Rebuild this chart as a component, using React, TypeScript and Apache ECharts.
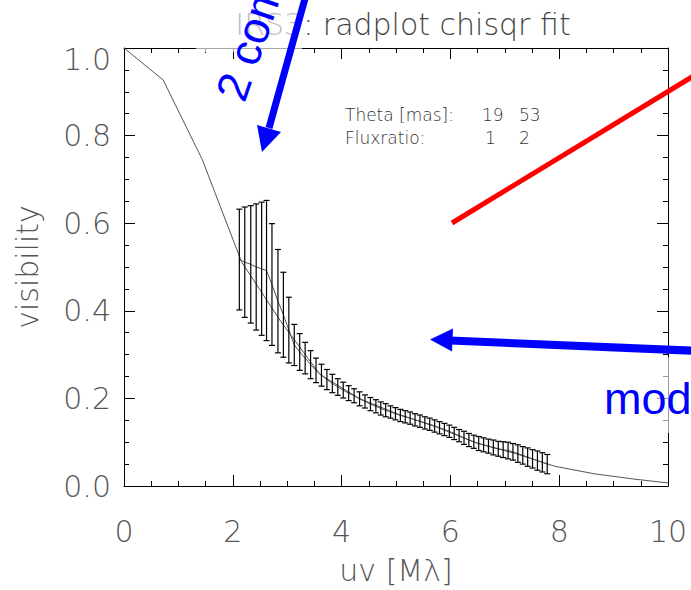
import React, { useEffect, useRef } from "react";
import * as echarts from "echarts";

// model curve
const modelUV = [0, 0.72, 1.44, 2.16, 2.88, 3.6, 4.32, 5.04, 5.76, 6.48, 7.2, 7.92, 8.64, 9.36, 10];
const modelVis = [1.0, 0.927, 0.745, 0.512, 0.376, 0.255, 0.2, 0.164, 0.134, 0.098, 0.074, 0.045, 0.028, 0.016, 0.007];

// measured visibilities with errors
const uvData = [
  2.12, 2.22, 2.33, 2.43, 2.53, 2.62, 2.72, 2.83, 2.93, 3.03,
  3.13, 3.23, 3.33, 3.43, 3.53, 3.63, 3.73, 3.83, 3.93, 4.03,
  4.13, 4.23, 4.33, 4.43, 4.53, 4.63,
  4.72, 4.81, 4.9, 4.99, 5.08, 5.17, 5.26, 5.35, 5.44, 5.53,
  5.62, 5.71, 5.8, 5.89, 5.98, 6.07, 6.16, 6.25, 6.34, 6.43,
  6.52, 6.61, 6.7, 6.79, 6.88, 6.97, 7.06, 7.15, 7.24, 7.33,
  7.42, 7.51, 7.6, 7.69, 7.78,
];
const visData = [
  0.517, 0.511, 0.506, 0.5, 0.496, 0.492, 0.46, 0.422, 0.391, 0.356,
  0.322, 0.306, 0.292, 0.277, 0.264, 0.253, 0.243, 0.234, 0.226, 0.219,
  0.212, 0.206, 0.199, 0.193, 0.187, 0.182,
  0.177, 0.173, 0.169, 0.165, 0.161, 0.158, 0.155, 0.151, 0.148, 0.144,
  0.141, 0.137, 0.133, 0.129, 0.125, 0.12, 0.115, 0.11, 0.105, 0.101,
  0.097, 0.094, 0.091, 0.088, 0.085, 0.083, 0.081, 0.078, 0.074, 0.07,
  0.066, 0.062, 0.058, 0.054, 0.05,
];
const errData = [
  0.115, 0.126, 0.134, 0.144, 0.152, 0.16, 0.139, 0.118, 0.097, 0.075,
  0.047, 0.042, 0.036, 0.032, 0.028, 0.025, 0.023, 0.021, 0.019, 0.018,
  0.017, 0.016, 0.016, 0.015, 0.015, 0.015,
  0.015, 0.015, 0.014, 0.014, 0.014, 0.014, 0.014, 0.014, 0.014, 0.014,
  0.014, 0.014, 0.014, 0.014, 0.014, 0.014, 0.014, 0.015, 0.015, 0.015,
  0.016, 0.016, 0.016, 0.017, 0.017, 0.018, 0.019, 0.019, 0.02, 0.02,
  0.021, 0.021, 0.022, 0.022, 0.022,
];

const xTicks = ["0", "2", "4", "6", "8", "10"];
const yTicks = ["0.0", "0.2", "0.4", "0.6", "0.8", "1.0"];

const FONT = '"DejaVu Sans"';
const LABEL_COLOR = "#555";
const BLUE = "#0000ff";

export default function App() {
  const ref = useRef<HTMLDivElement>(null);
  useEffect(() => {
    if (!ref.current) return;
    const chart = echarts.init(ref.current, undefined, { renderer: "svg" });

    const tickCommon = {
      axisLine: { show: true, onZero: false, lineStyle: { color: "#000", width: 1 } },
      axisTick: { show: true, inside: true, length: 11, lineStyle: { color: "#000", width: 1 } },
      splitLine: { show: false },
    };
    const labelStyle = { fontFamily: FONT, fontWeight: 200, fontSize: 30, color: LABEL_COLOR };

    const option: any = {
      animation: false,
      backgroundColor: "#fff",
      title: {
        text: "{b|IRS3: radplot chisqr fit}",
        left: 398,
        top: 4,
        textAlign: "center",
        textStyle: {
          rich: {
            b: { fontFamily: FONT, fontWeight: 200, fontSize: 30, color: "#444" },
          },
        },
      },
      grid: { left: 124, right: 23, top: 48, bottom: 97 },
      xAxis: [
        {
          type: "value",
          min: 0,
          max: 10,
          interval: 2,
          position: "bottom",
          ...tickCommon,
          minorTick: { show: true, splitNumber: 4, length: 5, lineStyle: { color: "#000" } },
          axisLabel: {
            ...labelStyle,
            margin: 30,
            formatter: (v: number) => xTicks[Math.round(v / 2)] ?? String(v),
          },
          name: "uv [Mλ]",
          nameLocation: "middle",
          nameGap: 69,
          nameTextStyle: { ...labelStyle },
        },
        {
          type: "value",
          min: 0,
          max: 10,
          interval: 2,
          position: "top",
          ...tickCommon,
          minorTick: { show: true, splitNumber: 4, length: 5, lineStyle: { color: "#000" } },
          axisLabel: { show: false },
        },
      ],
      yAxis: [
        {
          type: "value",
          min: 0,
          max: 1,
          interval: 0.2,
          position: "left",
          ...tickCommon,
          minorTick: { show: true, splitNumber: 4, length: 5, lineStyle: { color: "#000" } },
          axisLabel: {
            ...labelStyle,
            lineHeight: 22,
            margin: 13,
            verticalAlignMaxLabel: "top",
            formatter: (v: number) => yTicks[Math.round(v / 0.2)] ?? String(v),
          },
          name: "visibility",
          nameLocation: "middle",
          nameGap: 82,
          nameTextStyle: { ...labelStyle },
        },
        {
          type: "value",
          min: 0,
          max: 1,
          interval: 0.2,
          position: "right",
          ...tickCommon,
          minorTick: { show: true, splitNumber: 4, length: 5, lineStyle: { color: "#000" } },
          axisLabel: { show: false },
        },
      ],
      series: [
        {
          type: "line",
          name: "model",
          data: modelUV.map((u, i) => [u, modelVis[i]]),
          showSymbol: false,
          symbol: "none",
          lineStyle: { color: "#555", width: 1 },
          z: 3,
        },
        {
          type: "line",
          name: "data",
          data: uvData.map((u, i) => [u, visData[i]]),
          showSymbol: false,
          symbol: "none",
          lineStyle: { color: "#555", width: 1 },
          z: 3,
        },
        {
          type: "custom",
          name: "errors",
          data: uvData.map((u, i) => [u, visData[i], errData[i]]),
          encode: { x: 0, y: 1 },
          z: 4,
          renderItem: (params: any, api: any) => {
            const x = api.value(0);
            const y = api.value(1);
            const e = api.value(2);
            const top = api.coord([x, y + e]);
            const bot = api.coord([x, y - e]);
            const w = 3;
            const style = { stroke: "#000", lineWidth: 1.2 };
            return {
              type: "group",
              children: [
                { type: "line", shape: { x1: top[0], y1: top[1], x2: bot[0], y2: bot[1] }, style },
                { type: "line", shape: { x1: top[0] - w, y1: top[1], x2: top[0] + w, y2: top[1] }, style },
                { type: "line", shape: { x1: bot[0] - w, y1: bot[1], x2: bot[0] + w, y2: bot[1] }, style },
              ],
            };
          },
        },
      ],
      graphic: {
        elements: [
          // fit parameters text block
          { type: "text", x: 345, y: 115, z: 50, style: { text: "Theta [mas]:", font: `200 17px ${FONT}`, fill: "#333", verticalAlign: "middle" } },
          { type: "text", x: 482, y: 115, z: 50, style: { text: "19", font: `200 17px ${FONT}`, fill: "#333", verticalAlign: "middle" } },
          { type: "text", x: 519, y: 115, z: 50, style: { text: "53", font: `200 17px ${FONT}`, fill: "#333", verticalAlign: "middle" } },
          { type: "text", x: 345, y: 138, z: 50, style: { text: "Fluxratio:", font: `200 17px ${FONT}`, fill: "#333", verticalAlign: "middle" } },
          { type: "text", x: 485, y: 138, z: 50, style: { text: "1", font: `200 17px ${FONT}`, fill: "#333", verticalAlign: "middle" } },
          { type: "text", x: 519, y: 138, z: 50, style: { text: "2", font: `200 17px ${FONT}`, fill: "#333", verticalAlign: "middle" } },
          // translucent white boxes behind the overlaid annotations
          { type: "rect", z: 60, shape: { x: 196, y: 0, width: 106, height: 52 }, style: { fill: "rgba(255,255,255,0.65)" } },
          { type: "rect", z: 60, shape: { x: 598, y: 357, width: 100, height: 76 }, style: { fill: "rgba(255,255,255,0.6)" } },
          // red line
          { type: "line", z: 70, shape: { x1: 452, y1: 223, x2: 700, y2: 72 }, style: { stroke: "#ff0000", lineWidth: 5 } },
          // blue arrow 1
          { type: "line", z: 70, shape: { x1: 306, y1: -5, x2: 269, y2: 128 }, style: { stroke: BLUE, lineWidth: 7 } },
          { type: "polygon", z: 70, shape: { points: [[262, 152], [257, 125], [281, 132]] }, style: { fill: BLUE } },
          // blue arrow 2
          { type: "line", z: 70, shape: { x1: 450, y1: 340.5, x2: 700, y2: 351 }, style: { stroke: BLUE, lineWidth: 8 } },
          { type: "polygon", z: 70, shape: { points: [[430, 339.5], [453, 328.5], [452, 351.5]] }, style: { fill: BLUE } },
          // blue texts
          {
            type: "text",
            z: 70,
            x: 251,
            y: 106,
            rotation: (71 * Math.PI) / 180,
            style: { text: "2 components", font: `45px "Liberation Sans"`, fill: BLUE, align: "left", verticalAlign: "bottom" },
          },
          {
            type: "text",
            z: 70,
            x: 604,
            y: 421,
            style: { text: "model", font: `45px "Liberation Sans"`, fill: BLUE, align: "left", verticalAlign: "bottom" },
          },
        ],
      },
    };
    chart.setOption(option);
    return () => chart.dispose();
  }, []);

  return (
    <div
      ref={ref}
      style={{ position: "fixed", left: 0, top: 0, width: 691, height: 590, background: "#fff" }}
    />
  );
}
